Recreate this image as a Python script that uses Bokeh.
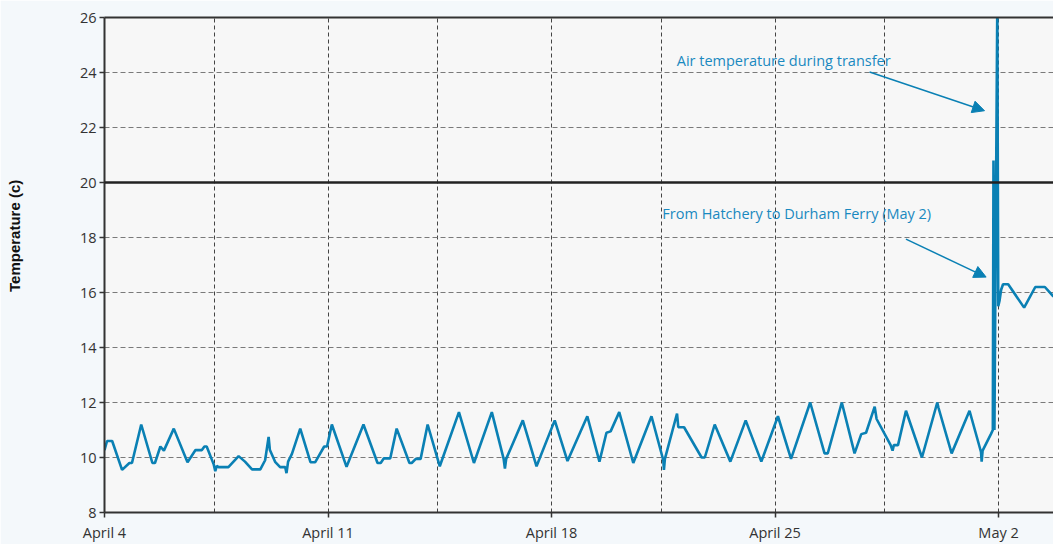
from bokeh.plotting import figure
from bokeh.models import FixedTicker, Span, Label, Arrow, NormalHead, LinearAxis, Range1d
from bokeh.embed import file_html
from bokeh.resources import INLINE

# ---- data (days since April 4, 00:00) ----
days = [0.00, 0.08, 0.24, 0.55, 0.78, 0.86, 1.15, 1.50, 1.58, 1.75, 1.86, 2.17, 2.60, 2.85,
        3.05, 3.13, 3.20, 3.42, 3.47, 3.52, 3.57, 3.88, 4.04, 4.20, 4.40, 4.62, 4.88, 5.03,
        5.14, 5.18, 5.35, 5.50, 5.66, 5.70, 5.75, 5.87, 6.13, 6.45, 6.60, 6.88, 6.97, 7.12,
        7.58, 8.11, 8.55, 8.65, 8.75, 8.95, 9.15, 9.55, 9.62, 9.75, 9.90, 10.12, 10.50, 11.10,
        11.57, 12.13, 12.50, 12.54, 12.58, 13.10, 13.53, 14.10, 14.50, 15.12, 15.50, 15.72,
        15.85, 16.12, 16.56, 17.13, 17.50, 17.52, 17.55, 17.93, 17.97, 18.15, 18.25, 18.70,
        18.80, 19.11, 19.60, 20.08, 20.57, 21.09, 21.50, 22.10, 22.55, 22.65, 23.09, 23.49,
        23.70, 23.85, 24.12, 24.18, 24.62, 24.68, 24.72, 24.85, 25.10, 25.60, 26.08, 26.12,
        26.53, 27.09, 27.45, 27.47, 27.50, 27.76, 27.82, 27.84, 27.87, 27.96, 27.99, 28.03,
        28.08, 28.14, 28.30, 28.80, 29.15, 29.45, 29.72]
temperature = [10.27, 10.6, 10.6, 9.55, 9.8, 9.8, 11.2, 9.8, 9.8, 10.4, 10.25, 11.05, 9.83, 10.27,
               10.27, 10.4, 10.4, 9.75, 9.5, 9.7, 9.65, 9.65, 9.85, 10.05, 9.85, 9.57, 9.57, 9.9,
               10.75, 10.27, 9.83, 9.65, 9.65, 9.43, 9.85, 10.13, 11.05, 9.83, 9.83, 10.4, 10.4, 11.2,
               9.66, 11.2, 9.8, 9.8, 9.97, 9.97, 11.05, 9.8, 9.8, 9.95, 9.95, 11.2, 9.68, 11.65,
               9.8, 11.65, 9.95, 9.6, 9.95, 11.35, 9.68, 11.35, 9.87, 11.5, 9.85, 10.9,
               10.95, 11.65, 9.8, 11.5, 9.9, 9.55, 9.95, 11.6, 11.1, 11.1, 10.9, 10.0,
               10.0, 11.2, 9.85, 11.35, 9.85, 11.5, 9.95, 12.0, 10.15, 10.15, 12.0, 10.15,
               10.85, 10.9, 11.85, 11.4, 10.45, 10.25, 10.45, 10.45, 11.7, 10.0, 12.0, 11.8,
               10.15, 11.7, 10.2, 9.85, 10.25, 10.85, 11.0, 20.8, 11.0, 26.5, 15.5, 15.7,
               16.1, 16.3, 16.3, 15.45, 16.2, 16.2, 15.85]

tick_days = [0, 7, 14, 21, 28]
tick_labels = ["April 4", "April 11", "April 18", "April 25", "May 2"]
grid_days = [3.43, 7, 10.43, 14, 17.43, 21, 24.43, 28]
y_ticks = [8, 10, 12, 14, 16, 18, 20, 22, 24, 26]
threshold = 20

y_title = "Temperature (c)"
air_note = "Air temperature during transfer"
transfer_note = "From Hatchery to Durham Ferry (May 2)"

LINE = "#0a80b4"
NOTE = "#1a89c0"
FONT = "Open Sans"

p = figure(width=1053, height=544, output_backend="svg", toolbar_location=None,
           x_range=Range1d(0, 29.72), y_range=Range1d(8, 26),
           min_border_left=104, min_border_right=0, min_border_top=17, min_border_bottom=29)
p.background_fill_color = "#f7f7f7"
p.border_fill_color = "#f4f8fb"
p.outline_line_color = None

# grids
p.xgrid.ticker = FixedTicker(ticks=grid_days)
p.xgrid.grid_line_color = "#444444"
p.xgrid.grid_line_dash = "4 3"
p.xgrid.grid_line_width = 1
p.ygrid.ticker = FixedTicker(ticks=y_ticks)
p.ygrid.grid_line_color = "#7a7a7a"
p.ygrid.grid_line_dash = "5 3"
p.ygrid.grid_line_width = 1

# axes
p.xaxis.ticker = FixedTicker(ticks=tick_days)
p.xaxis.major_label_overrides = {d: l for d, l in zip(tick_days, tick_labels)}
p.yaxis.ticker = FixedTicker(ticks=y_ticks)
for ax in (p.xaxis[0], p.yaxis[0]):
    ax.axis_line_color = "#333333"
    ax.axis_line_width = 2
    ax.major_tick_line_color = "#333333"
    ax.major_tick_line_width = 1.5
    ax.major_tick_in = 0
    ax.major_tick_out = 5
    ax.minor_tick_line_color = None
    ax.major_label_text_font = FONT
    ax.major_label_text_font_size = "14.5px"
    ax.major_label_text_color = "#333333"
p.xaxis.major_label_standoff = 5
p.yaxis.major_label_standoff = 3

top = LinearAxis(ticker=FixedTicker(ticks=[]), axis_line_color="#333333", axis_line_width=2,
                 major_tick_line_color=None, minor_tick_line_color=None,
                 major_label_standoff=0, major_tick_out=0, major_tick_in=0)
p.add_layout(top, "above")

# outer left axis that only carries the y title; leading no-break spaces lift it
# above the frame centre as in the original layout
title_axis = LinearAxis(ticker=FixedTicker(ticks=[]), axis_line_color=None,
                        major_tick_line_color=None, minor_tick_line_color=None,
                        major_label_standoff=0, major_tick_out=0, major_tick_in=0,
                        axis_label="\u00a0" * 14 + y_title, axis_label_standoff=54,
                        axis_label_text_font="Liberation Sans", axis_label_text_font_style="bold",
                        axis_label_text_font_size="15px", axis_label_text_color="#111111")
p.add_layout(title_axis, "left")

# threshold line
p.add_layout(Span(location=threshold, dimension="width", line_color="#222222", line_width=2.5))

# data line
p.line(days, temperature, line_color=LINE, line_width=2.6)

# annotations
p.add_layout(Label(x=17.92, y=24.42, text=air_note, text_align="left", text_baseline="middle",
                   text_font=FONT, text_font_size="14.5px", text_color=NOTE))
p.add_layout(Label(x=17.47, y=18.88, text=transfer_note, text_align="left", text_baseline="middle",
                   text_font=FONT, text_font_size="14.5px", text_color=NOTE))
p.add_layout(Arrow(end=NormalHead(size=12, fill_color=LINE, line_color=LINE),
                   x_start=23.96, y_start=24.02, x_end=27.56, y_end=22.61,
                   line_color=LINE, line_width=1.5))
p.add_layout(Arrow(end=NormalHead(size=12, fill_color=LINE, line_color=LINE),
                   x_start=25.10, y_start=17.94, x_end=27.61, y_end=16.56,
                   line_color=LINE, line_width=1.5))

open("out.html", "w").write(file_html(p, INLINE))
